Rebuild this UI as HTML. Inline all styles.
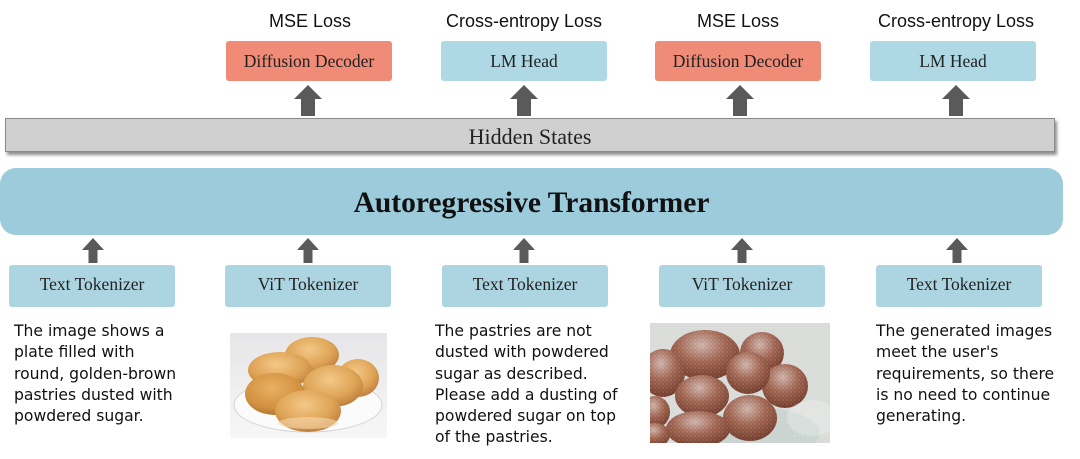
<!DOCTYPE html>
<html>
<head>
<meta charset="utf-8">
<style>
  html,body{margin:0;padding:0;background:#fff;}
  body{width:1080px;height:459px;position:relative;overflow:hidden;}
  .abs{position:absolute;}
  .loss{position:absolute;top:10px;height:22px;line-height:22px;font-family:"Liberation Sans",sans-serif;font-size:18px;color:#111;text-align:center;width:240px;}
  .box{position:absolute;box-sizing:border-box;border-radius:3px;font-family:"Liberation Serif",serif;font-size:17.5px;color:#222;text-align:center;}
  .dec{background:#ef8b76;top:41px;height:40px;line-height:41px;width:166px;}
  .lm{background:#add8e4;top:41px;height:40px;line-height:41px;width:166px;}
  .tok{background:#add5e1;top:265px;height:42px;line-height:39px;width:166px;}
  .desc{position:absolute;top:321px;font-family:"DejaVu Sans",sans-serif;font-size:15.6px;line-height:21.3px;color:#111;white-space:pre;}
</style>
</head>
<body>

<!-- loss labels -->
<div class="loss" style="left:190px;">MSE Loss</div>
<div class="loss" style="left:404px;">Cross-entropy Loss</div>
<div class="loss" style="left:618px;">MSE Loss</div>
<div class="loss" style="left:836px;">Cross-entropy Loss</div>

<!-- heads -->
<div class="box dec" style="left:226px;">Diffusion Decoder</div>
<div class="box lm" style="left:441px;">LM Head</div>
<div class="box dec" style="left:655px;">Diffusion Decoder</div>
<div class="box lm" style="left:870px;">LM Head</div>

<!-- arrows -->
<svg class="abs" style="left:0;top:0" width="1080" height="459">
  <g fill="#5a5a5a">
    <polygon points="294,99 308,85 322,99 315,99 315,116 301,116 301,99"/>
    <polygon points="510,99 524,85 538,99 531,99 531,116 517,116 517,99"/>
    <polygon points="726,99 740,85 754,99 747,99 747,116 733,116 733,99"/>
    <polygon points="942,99 956,85 970,99 963,99 963,116 949,116 949,99"/>

    <polygon points="82,250 93,238 104,250 97.5,250 97.5,263 88.5,263 88.5,250"/>
    <polygon points="297,250 308,238 319,250 312.5,250 312.5,263 303.5,263 303.5,250"/>
    <polygon points="513,250 524,238 535,250 528.5,250 528.5,263 519.5,263 519.5,250"/>
    <polygon points="731,250 742,238 753,250 746.5,250 746.5,263 737.5,263 737.5,250"/>
    <polygon points="946,250 957,238 968,250 961.5,250 961.5,263 952.5,263 952.5,250"/>
  </g>
</svg>

<!-- hidden states -->
<div class="abs" style="left:5px;top:118px;width:1050px;height:34px;box-sizing:border-box;background:#d0d0d0;border:1.5px solid #8a8a8a;box-shadow:2px 3px 3px #8f8f8f;font-family:'Liberation Serif',serif;font-size:22px;line-height:35px;text-align:center;color:#222;">Hidden States</div>

<!-- transformer -->
<div class="abs" style="left:0;top:168px;width:1063px;height:67px;background:#9ccbdc;border-radius:16px;font-family:'Liberation Serif',serif;font-weight:bold;font-size:29.5px;line-height:70px;text-align:center;color:#111;">Autoregressive Transformer</div>

<!-- tokenizers -->
<div class="box tok" style="left:9px;">Text Tokenizer</div>
<div class="box tok" style="left:225px;">ViT Tokenizer</div>
<div class="box tok" style="left:442px;">Text Tokenizer</div>
<div class="box tok" style="left:659px;">ViT Tokenizer</div>
<div class="box tok" style="left:876px;">Text Tokenizer</div>

<!-- descriptions -->
<div class="desc" style="left:14px;">The image shows a
plate filled with
round, golden-brown
pastries dusted with
powdered sugar.</div>
<div class="desc" style="left:435px;">The pastries are not
dusted with powdered
sugar as described.
Please add a dusting of
powdered sugar on top
of the pastries.</div>
<div class="desc" style="left:876px;">The generated images
meet the user's
requirements, so there
is no need to continue
generating.</div>

<!-- image 1: golden buns -->
<svg class="abs" style="left:230px;top:333px" width="157" height="105" viewBox="0 0 157 105">
  <defs>
    <linearGradient id="bg1" x1="0" y1="0" x2="0" y2="1">
      <stop offset="0" stop-color="#e6e6e8"/>
      <stop offset="1" stop-color="#f7f7f7"/>
    </linearGradient>
    <radialGradient id="bun" cx="0.45" cy="0.35" r="0.7">
      <stop offset="0" stop-color="#f4c887"/>
      <stop offset="0.6" stop-color="#dea456"/>
      <stop offset="1" stop-color="#b9793a"/>
    </radialGradient>
    <radialGradient id="bun2" cx="0.45" cy="0.35" r="0.7">
      <stop offset="0" stop-color="#e9b062"/>
      <stop offset="0.7" stop-color="#d0903f"/>
      <stop offset="1" stop-color="#a86a2c"/>
    </radialGradient>
  </defs>
  <rect width="157" height="105" fill="url(#bg1)"/>
  <ellipse cx="78" cy="72" rx="74" ry="27" fill="#fbfbfb" stroke="#d4d4d4" stroke-width="1"/>
  <ellipse cx="82" cy="22" rx="27" ry="18" fill="url(#bun)"/>
  <ellipse cx="128" cy="45" rx="21" ry="19" fill="url(#bun)"/>
  <ellipse cx="50" cy="37" rx="32" ry="18" fill="url(#bun)"/>
  <ellipse cx="103" cy="53" rx="30" ry="21" fill="url(#bun)"/>
  <ellipse cx="45" cy="61" rx="30" ry="21" fill="url(#bun2)"/>
  <ellipse cx="78" cy="78" rx="33" ry="21" fill="url(#bun)"/>
  <ellipse cx="78" cy="90" rx="30" ry="6" fill="#f6dbb0" opacity="0.6"/>
</svg>

<!-- image 2: sugared balls -->
<svg class="abs" style="left:650px;top:323px" width="180" height="120" viewBox="0 0 180 120">
  <defs>
    <radialGradient id="ball" cx="0.45" cy="0.3" r="0.75">
      <stop offset="0" stop-color="#cdb2aa"/>
      <stop offset="0.45" stop-color="#a06450"/>
      <stop offset="1" stop-color="#6a3424"/>
    </radialGradient>
    <pattern id="dust" width="4" height="4" patternUnits="userSpaceOnUse">
      <circle cx="1" cy="1" r="0.6" fill="#fff" opacity="0.7"/>
      <circle cx="3" cy="3" r="0.5" fill="#fff" opacity="0.5"/>
    </pattern>
  </defs>
  <rect width="180" height="120" fill="#d8dbd7"/>
  <ellipse cx="110" cy="110" rx="60" ry="25" fill="#c9d3cf"/>
  <g>
    <ellipse cx="112" cy="30" rx="22" ry="21" fill="url(#ball)"/>
    <ellipse cx="55" cy="32" rx="35" ry="25" fill="url(#ball)"/>
    <ellipse cx="13" cy="50" rx="22" ry="24" fill="url(#ball)"/>
    <ellipse cx="135" cy="63" rx="23" ry="22" fill="url(#ball)"/>
    <ellipse cx="98" cy="50" rx="22" ry="21" fill="url(#ball)"/>
    <ellipse cx="5" cy="89" rx="15" ry="16" fill="url(#ball)"/>
    <ellipse cx="52" cy="73" rx="27" ry="21" fill="url(#ball)"/>
    <ellipse cx="100" cy="95" rx="27" ry="23" fill="url(#ball)"/>
    <ellipse cx="5" cy="112" rx="15" ry="12" fill="url(#ball)"/>
    <ellipse cx="48" cy="106" rx="32" ry="18" fill="url(#ball)"/>
  </g>
  <rect width="180" height="120" fill="url(#dust)" opacity="0.5"/>
  <ellipse cx="162" cy="95" rx="25" ry="18" fill="#ffffff" opacity="0.25"/>
</svg>

</body>
</html>
